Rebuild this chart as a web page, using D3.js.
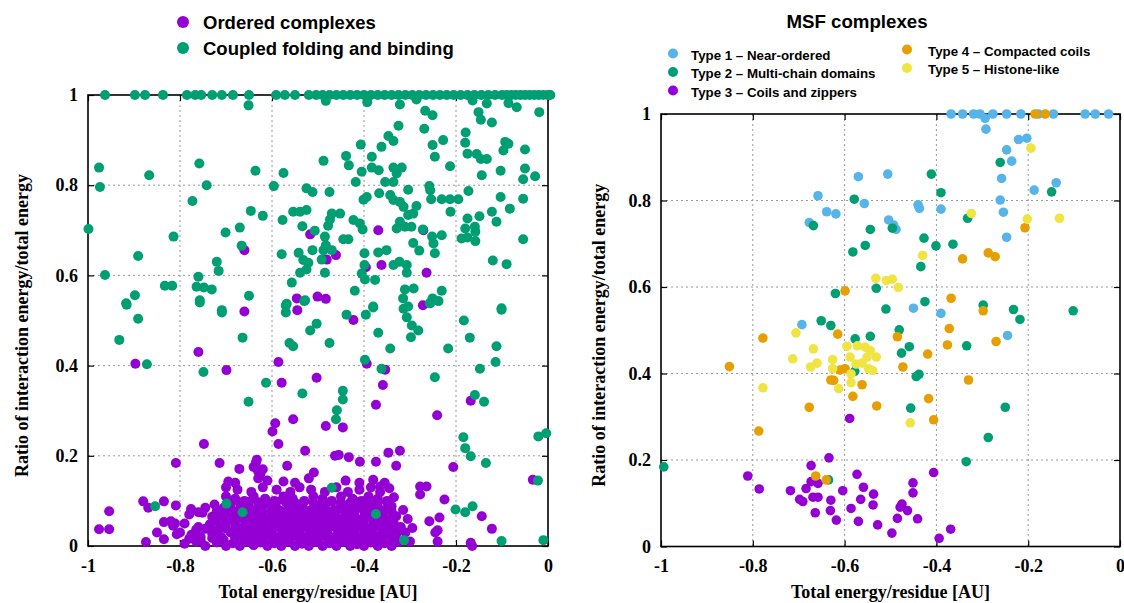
<!DOCTYPE html>
<html><head><meta charset="utf-8">
<script src="https://cdn.jsdelivr.net/npm/d3@7"></script>
<style>
body{margin:0;background:#fff}
.ax text{font-family:"Liberation Serif",serif;font-weight:bold;font-size:18px;fill:#000}
.lab{font-family:"Liberation Serif",serif;font-weight:bold;font-size:18px;fill:#000}
.leg{font-family:"Liberation Sans",Arial,sans-serif;font-weight:bold;fill:#000}
</style></head><body>
<svg id="c" width="1124" height="603"></svg>
<script>
// ---- shared axis data ----
const xTicks=[-1,-0.8,-0.6,-0.4,-0.2,0];
const xTickLabels=["-1","-0.8","-0.6","-0.4","-0.2","0"];
const yTicks=[0,0.2,0.4,0.6,0.8,1];
const yTickLabels=["0","0.2","0.4","0.6","0.8","1"];
const gridX=[-0.8,-0.6,-0.4,-0.2];
const gridY=[0.2,0.4,0.6,0.8];
const xLabel="Total energy/residue [AU]";
const yLabel="Ratio of interaction energy/total energy";

// ---- left panel: ordered complexes (purple) ----
const orderedScatter=[[-0.660,0.656],[-0.517,0.691],[-0.481,0.635],[-0.461,0.645],[-0.369,0.700],[-0.396,0.618],[-0.362,0.623],[-0.271,0.700],[-0.264,0.606],[-0.546,0.549],[-0.545,0.523],[-0.501,0.553],[-0.483,0.548],[-0.660,0.520],[-0.272,0.534],[-0.423,0.501],
[-0.760,0.430],[-0.897,0.404],[-0.699,0.390],[-0.586,0.408],[-0.579,0.362],[-0.503,0.373],[-0.394,0.404],[-0.354,0.391],[-0.359,0.357],[-0.374,0.313],[-0.554,0.281],[-0.599,0.254],[-0.593,0.272],[-0.483,0.266],[-0.446,0.263],[-0.586,0.226],[-0.748,0.226],[-0.528,0.211],[-0.463,0.200],[-0.455,0.202],[-0.433,0.197],[-0.409,0.187],[-0.374,0.187],[-0.347,0.207],[-0.322,0.211],[-0.330,0.178],[-0.241,0.290],[-0.168,0.322],[-0.206,0.175],[-0.033,0.147],[-0.809,0.184],[-0.714,0.184],[-0.671,0.171],[-0.633,0.191],[-0.567,0.178],[-0.509,0.163],[-0.225,0.103],[-0.236,0.063],[-0.240,0.035],[-0.144,0.066],[-0.122,0.038],[-0.168,0.007],[-0.278,0.132],[-0.264,0.132],[-0.278,0.114],[-0.258,0.055],[-0.976,0.037],[-0.954,0.037],[-0.954,0.077],[-0.880,0.099],[-0.869,0.085],[-0.835,0.099],[-0.874,0.009],[-0.835,0.053],[-0.811,0.050],[-0.807,0.026],[-0.809,0.090],[-0.776,0.082],[-0.751,0.074],[-0.725,0.092],[-0.165,0.0],[-0.24,0.01],[-0.245,0.03]];
const orderedCluster=[
[-0.79,0.005],[-0.765,0.01],[-0.745,0.0],[-0.72,0.008],[-0.70,0.0],[-0.685,0.006],[-0.67,0.0],[-0.655,0.01],[-0.64,0.002],[-0.625,0.008],[-0.61,0.0],[-0.595,0.006],[-0.58,0.0],[-0.565,0.01],[-0.55,0.0],[-0.535,0.005],[-0.52,0.0],[-0.505,0.009],[-0.49,0.0],[-0.475,0.006],[-0.46,0.0],[-0.445,0.01],[-0.43,0.0],[-0.415,0.004],[-0.40,0.0],[-0.385,0.008],[-0.37,0.0],[-0.355,0.006],[-0.34,0.0],[-0.325,0.01],
[-0.78,0.016],[-0.755,0.012],[-0.73,0.018],[-0.705,0.013],[-0.68,0.017],[-0.66,0.012],[-0.64,0.018],[-0.62,0.014],[-0.60,0.016],[-0.58,0.012],[-0.56,0.018],[-0.54,0.013],[-0.52,0.017],[-0.50,0.012],[-0.48,0.018],[-0.46,0.014],[-0.44,0.016],[-0.42,0.012],[-0.40,0.018],[-0.38,0.013],[-0.36,0.017],[-0.34,0.014],
[-0.80,0.03],[-0.775,0.025],[-0.755,0.02],[-0.73,0.028],[-0.71,0.02],[-0.69,0.03],[-0.675,0.022],[-0.66,0.03],[-0.645,0.02],[-0.63,0.028],[-0.615,0.022],[-0.60,0.03],[-0.585,0.02],[-0.57,0.028],[-0.555,0.024],[-0.54,0.03],[-0.525,0.02],[-0.51,0.028],[-0.495,0.022],[-0.48,0.03],[-0.465,0.02],[-0.45,0.026],[-0.435,0.022],[-0.42,0.03],[-0.405,0.02],[-0.39,0.028],[-0.375,0.022],[-0.36,0.03],[-0.345,0.02],[-0.33,0.026],
[-0.765,0.036],[-0.745,0.038],[-0.72,0.035],[-0.70,0.039],[-0.68,0.036],[-0.66,0.038],[-0.64,0.035],[-0.62,0.039],[-0.60,0.036],[-0.58,0.038],[-0.56,0.035],[-0.54,0.039],[-0.52,0.036],[-0.50,0.038],[-0.48,0.035],[-0.46,0.039],[-0.44,0.036],[-0.42,0.038],[-0.40,0.035],[-0.38,0.039],[-0.36,0.036],[-0.34,0.038],[-0.325,0.035],
[-0.815,0.045],[-0.79,0.05],[-0.76,0.042],[-0.735,0.048],[-0.715,0.04],[-0.70,0.05],[-0.68,0.045],[-0.665,0.04],[-0.65,0.05],[-0.635,0.044],[-0.62,0.048],[-0.605,0.04],[-0.59,0.05],[-0.575,0.045],[-0.56,0.04],[-0.545,0.05],[-0.53,0.044],[-0.515,0.048],[-0.50,0.04],[-0.485,0.05],[-0.47,0.045],[-0.455,0.04],[-0.44,0.05],[-0.425,0.044],[-0.41,0.048],[-0.395,0.04],[-0.38,0.05],[-0.365,0.045],[-0.35,0.04],[-0.335,0.05],[-0.32,0.042],
[-0.72,0.056],[-0.70,0.058],[-0.68,0.055],[-0.66,0.057],[-0.64,0.056],[-0.62,0.058],[-0.60,0.055],[-0.58,0.057],[-0.56,0.056],[-0.54,0.058],[-0.52,0.055],[-0.50,0.057],[-0.48,0.056],[-0.46,0.058],[-0.44,0.055],[-0.42,0.057],[-0.40,0.056],[-0.38,0.058],[-0.36,0.055],[-0.34,0.057],
[-0.73,0.065],[-0.71,0.07],[-0.69,0.062],[-0.675,0.068],[-0.66,0.06],[-0.645,0.07],[-0.63,0.065],[-0.615,0.06],[-0.60,0.07],[-0.585,0.064],[-0.57,0.068],[-0.555,0.06],[-0.54,0.07],[-0.525,0.065],[-0.51,0.06],[-0.495,0.07],[-0.48,0.064],[-0.465,0.068],[-0.45,0.06],[-0.435,0.07],[-0.42,0.065],[-0.405,0.06],[-0.39,0.07],[-0.375,0.064],[-0.36,0.068],[-0.345,0.06],[-0.33,0.066],
[-0.72,0.077],[-0.70,0.078],[-0.68,0.076],[-0.66,0.078],[-0.64,0.077],[-0.62,0.076],[-0.60,0.078],[-0.58,0.077],[-0.56,0.076],[-0.54,0.078],[-0.52,0.077],[-0.50,0.076],[-0.48,0.078],[-0.46,0.077],[-0.44,0.076],[-0.42,0.078],[-0.40,0.077],[-0.38,0.076],[-0.36,0.078],[-0.34,0.077],
[-0.705,0.085],[-0.69,0.09],[-0.67,0.082],[-0.65,0.088],[-0.635,0.08],[-0.62,0.09],[-0.60,0.085],[-0.585,0.08],[-0.565,0.09],[-0.55,0.084],[-0.535,0.088],[-0.515,0.08],[-0.50,0.09],[-0.485,0.085],[-0.465,0.08],[-0.45,0.09],[-0.43,0.084],[-0.415,0.088],[-0.40,0.08],[-0.385,0.09],[-0.37,0.085],[-0.355,0.08],[-0.34,0.088],
[-0.69,0.097],[-0.67,0.096],[-0.65,0.098],[-0.63,0.097],[-0.61,0.096],[-0.59,0.098],[-0.57,0.097],[-0.55,0.096],[-0.53,0.098],[-0.51,0.097],[-0.49,0.096],[-0.47,0.098],[-0.45,0.097],[-0.43,0.096],[-0.41,0.098],[-0.39,0.097],[-0.37,0.096],[-0.35,0.098],
[-0.70,0.11],[-0.68,0.105],[-0.66,0.1],[-0.64,0.11],[-0.615,0.105],[-0.595,0.1],[-0.575,0.11],[-0.555,0.105],[-0.53,0.1],[-0.51,0.11],[-0.49,0.105],[-0.47,0.1],[-0.45,0.11],[-0.425,0.105],[-0.405,0.1],[-0.39,0.11],[-0.37,0.105],[-0.35,0.1],[-0.335,0.108],
[-0.70,0.13],[-0.675,0.125],[-0.645,0.12],[-0.62,0.13],[-0.59,0.125],[-0.56,0.12],[-0.54,0.13],[-0.515,0.125],[-0.485,0.12],[-0.46,0.13],[-0.435,0.12],[-0.41,0.125],[-0.385,0.13],[-0.365,0.12],[-0.345,0.128],
[-0.695,0.143],[-0.68,0.14],[-0.63,0.15],[-0.61,0.145],[-0.575,0.143],[-0.55,0.14],[-0.52,0.15],[-0.44,0.145],[-0.41,0.14],[-0.38,0.147],[-0.355,0.14],[-0.365,0.132],
[-0.63,0.165],[-0.64,0.175],[-0.635,0.185],[-0.62,0.17],[-0.625,0.16],
[-0.85,0.03],[-0.835,0.015],[-0.82,0.055],[-0.78,0.07],[-0.76,0.075],[-0.745,0.085],[-0.31,0.03],[-0.305,0.06],[-0.30,0.01],[-0.315,0.08],[-0.295,0.04]];

// ---- left panel: coupled folding and binding (green) ----
const coupledTop=[[-0.963,1],[-0.898,1],[-0.876,1],[-0.837,1],[-0.785,1],[-0.767,1],[-0.754,1],[-0.730,1],[-0.709,1],[-0.685,1],[-0.650,1],[-0.591,1],[-0.572,1],[-0.55,1],[-0.52,1],[-0.504,1],[-0.49,1],[-0.475,1],[-0.46,1],[-0.445,1],[-0.43,1],[-0.415,1],[-0.40,1],[-0.385,1],[-0.37,1],[-0.355,1],[-0.34,1],[-0.325,1],[-0.31,1],[-0.295,1],[-0.28,1],[-0.265,1],[-0.25,1],[-0.235,1],[-0.22,1],[-0.205,1],[-0.19,1],[-0.175,1],[-0.16,1],[-0.145,1],[-0.13,1],[-0.115,1],[-0.1,1],[-0.09,1],[-0.08,1],[-0.07,1],[-0.06,1],[-0.05,1],[-0.04,1],[-0.03,1],[-0.02,1],[-0.01,1],[0,1],[0.005,1]];
const coupledScatter=[[-0.651,0.977],[-0.483,0.987],[-0.393,0.984],[-0.322,0.979],[-0.286,0.990],[-0.164,0.988],[-0.151,0.962],[-0.146,0.945],[-0.133,0.981],[-0.086,0.982],[-0.068,0.973],[-0.019,0.962],[-0.267,0.965],[-0.251,0.955],[-0.269,0.925],[-0.325,0.932],[-0.122,0.939],[-0.179,0.917],[-0.180,0.894],[-0.175,0.870],[-0.155,0.869],[-0.146,0.858],[-0.133,0.858],[-0.144,0.822],[-0.228,0.900],[-0.251,0.889],[-0.246,0.863],[-0.213,0.842],[-0.347,0.909],[-0.336,0.898],[-0.362,0.885],[-0.407,0.890],[-0.383,0.863],[-0.383,0.839],[-0.368,0.833],[-0.439,0.865],[-0.433,0.844],[-0.405,0.830],[-0.488,0.854],[-0.336,0.839],[-0.318,0.839],[-0.329,0.826],[-0.354,0.807],[-0.336,0.807],[-0.418,0.807],[-0.367,0.782],[-0.343,0.778],[-0.304,0.790],[-0.336,0.767],[-0.322,0.763],[-0.401,0.768],[-0.394,0.774],[-0.314,0.752],[-0.286,0.754],[-0.304,0.734],[-0.293,0.737],[-0.322,0.719],[-0.329,0.704],[-0.311,0.708],[-0.297,0.708],[-0.258,0.798],[-0.256,0.789],[-0.254,0.769],[-0.231,0.769],[-0.213,0.769],[-0.195,0.769],[-0.212,0.741],[-0.173,0.787],[-0.103,0.832],[-0.097,0.877],[-0.093,0.896],[-0.086,0.892],[-0.050,0.879],[-0.050,0.837],[-0.054,0.813],[-0.028,0.820],[-0.054,0.770],[-0.103,0.774],[-0.083,0.748],[-0.122,0.741],[-0.112,0.719],[-0.175,0.726],[-0.149,0.731],[-0.159,0.708],[-0.180,0.704],[-0.158,0.697],[-0.188,0.682],[-0.175,0.684],[-0.158,0.676],[-0.054,0.680],[-0.120,0.633],[-0.090,0.625],[-0.101,0.527],[-0.272,0.702],[-0.252,0.686],[-0.231,0.689],[-0.249,0.671],[-0.246,0.649],[-0.293,0.672],[-0.280,0.655],[-0.323,0.630],[-0.307,0.623],[-0.307,0.606],[-0.336,0.623],[-0.311,0.569],[-0.292,0.571],[-0.315,0.549],[-0.304,0.531],[-0.251,0.549],[-0.231,0.566],[-0.256,0.539],[-0.376,0.590],[-0.399,0.649],[-0.369,0.651],[-0.351,0.656],[-0.399,0.623],[-0.405,0.604],[-0.420,0.566],[-0.380,0.531],[-0.423,0.723],[-0.409,0.715],[-0.403,0.702],[-0.452,0.737],[-0.470,0.737],[-0.474,0.724],[-0.478,0.710],[-0.445,0.680],[-0.434,0.680],[-0.485,0.686],[-0.483,0.667],[-0.488,0.656],[-0.470,0.656],[-0.492,0.635],[-0.475,0.785],[-0.525,0.793],[-0.512,0.785],[-0.525,0.745],[-0.539,0.741],[-0.554,0.741],[-0.577,0.723],[-0.534,0.709],[-0.507,0.699],[-0.512,0.656],[-0.542,0.650],[-0.532,0.634],[-0.521,0.628],[-0.579,0.647],[-0.539,0.606],[-0.525,0.613],[-0.485,0.606],[-0.557,0.584],[-0.596,0.798],[-0.575,0.827],[-0.636,0.832],[-0.646,0.743],[-0.620,0.732],[-0.670,0.706],[-0.666,0.666],[-0.701,0.695],[-0.720,0.630],[-0.716,0.610],[-0.758,0.848],[-0.742,0.800],[-0.773,0.765],[-0.814,0.686],[-0.867,0.822],[-0.891,0.643],[-0.963,0.601],[-0.976,0.839],[-0.974,0.796],[-0.999,0.703],[-0.833,0.577],[-0.817,0.577],[-0.760,0.597],[-0.764,0.575],[-0.748,0.573],[-0.731,0.569],[-0.757,0.545],[-0.650,0.555],[-0.917,0.538],[-0.898,0.556],[-0.709,0.523],[-0.568,0.537],[-0.528,0.545],[-0.398,0.591],
[-0.916,0.535],[-0.891,0.504],[-0.932,0.457],[-0.872,0.403],[-0.757,0.540],[-0.749,0.386],[-0.709,0.518],[-0.664,0.462],[-0.651,0.320],[-0.613,0.362],[-0.570,0.533],[-0.570,0.518],[-0.562,0.450],[-0.554,0.443],[-0.530,0.543],[-0.517,0.478],[-0.503,0.493],[-0.475,0.450],[-0.534,0.338],[-0.438,0.513],[-0.396,0.513],[-0.380,0.529],[-0.369,0.473],[-0.343,0.438],[-0.398,0.413],[-0.362,0.393],[-0.446,0.344],[-0.446,0.325],[-0.459,0.301],[-0.461,0.281],[-0.314,0.526],[-0.307,0.507],[-0.296,0.489],[-0.282,0.478],[-0.298,0.463],[-0.257,0.538],[-0.238,0.543],[-0.217,0.438],[-0.246,0.374],[-0.183,0.500],[-0.170,0.462],[-0.148,0.393],[-0.159,0.335],[-0.139,0.320],[-0.112,0.443],[-0.114,0.408],[-0.101,0.524],[-0.184,0.241],[-0.180,0.217],[-0.168,0.199],[-0.135,0.184],[-0.021,0.243],[-0.004,0.250],[-0.022,0.145],[-0.470,0.129],[-0.699,0.094],[-0.664,0.075],[-0.854,0.088],[-0.374,0.071],[-0.201,0.081],[-0.180,0.075],[-0.164,0.088],[-0.101,0.011],[-0.010,0.013],[-0.313,0.013]];

// ---- right panel: MSF complexes ----
const type1Pts=[[-0.368,1],[-0.343,1],[-0.319,1],[-0.305,1],[-0.294,0.990],[-0.277,1],[-0.247,1],[-0.216,1],[-0.178,1],[-0.145,1],[-0.076,1],[-0.054,1],[-0.025,1],[-0.292,0.965],[-0.221,0.941],[-0.203,0.944],[-0.247,0.917],[-0.236,0.891],[-0.258,0.851],[-0.261,0.801],[-0.254,0.773],[-0.247,0.715],[-0.187,0.824],[-0.139,0.841],[-0.570,0.855],[-0.506,0.861],[-0.658,0.811],[-0.639,0.774],[-0.619,0.769],[-0.677,0.749],[-0.557,0.793],[-0.504,0.755],[-0.493,0.743],[-0.488,0.733],[-0.440,0.790],[-0.437,0.782],[-0.390,0.780],[-0.450,0.551],[-0.390,0.539],[-0.693,0.513],[-0.245,0.488]];
const type2Pts=[[-0.411,0.861],[-0.390,0.818],[-0.579,0.803],[-0.261,0.888],[-0.149,0.820],[-0.668,0.742],[-0.544,0.733],[-0.496,0.736],[-0.555,0.696],[-0.582,0.681],[-0.427,0.713],[-0.401,0.695],[-0.364,0.699],[-0.434,0.647],[-0.332,0.759],[-0.531,0.597],[-0.620,0.585],[-0.510,0.549],[-0.425,0.566],[-0.298,0.558],[-0.232,0.548],[-0.218,0.525],[-0.102,0.545],[-0.651,0.522],[-0.630,0.511],[-0.577,0.480],[-0.544,0.486],[-0.481,0.501],[-0.459,0.462],[-0.476,0.447],[-0.334,0.464],[-0.444,0.393],[-0.438,0.398],[-0.456,0.320],[-0.250,0.322],[-0.287,0.252],[-0.335,0.196],[-0.635,0.154],[-0.994,0.184],[-0.578,0.405]];
const type3Pts=[[-0.589,0.296],[-0.634,0.205],[-0.673,0.187],[-0.811,0.163],[-0.786,0.133],[-0.718,0.129],[-0.698,0.109],[-0.691,0.104],[-0.684,0.134],[-0.673,0.150],[-0.658,0.146],[-0.669,0.114],[-0.658,0.114],[-0.664,0.078],[-0.630,0.107],[-0.631,0.083],[-0.618,0.061],[-0.604,0.129],[-0.573,0.167],[-0.559,0.137],[-0.537,0.121],[-0.565,0.109],[-0.538,0.096],[-0.586,0.088],[-0.570,0.058],[-0.528,0.050],[-0.497,0.031],[-0.485,0.065],[-0.475,0.098],[-0.479,0.091],[-0.463,0.083],[-0.441,0.064],[-0.451,0.147],[-0.451,0.124],[-0.406,0.171],[-0.394,0.019],[-0.369,0.040]];
const type4Pts=[[-0.185,1],[-0.163,1],[-0.207,0.737],[-0.287,0.679],[-0.272,0.670],[-0.343,0.665],[-0.599,0.591],[-0.368,0.574],[-0.298,0.545],[-0.778,0.482],[-0.851,0.416],[-0.787,0.267],[-0.677,0.322],[-0.615,0.491],[-0.485,0.485],[-0.372,0.504],[-0.376,0.466],[-0.270,0.474],[-0.419,0.445],[-0.473,0.415],[-0.610,0.408],[-0.599,0.411],[-0.630,0.385],[-0.624,0.384],[-0.562,0.374],[-0.582,0.347],[-0.530,0.325],[-0.417,0.342],[-0.406,0.293],[-0.330,0.385],[-0.663,0.163],[-0.640,0.154]];
const type5Pts=[[-0.194,0.921],[-0.324,0.770],[-0.202,0.757],[-0.132,0.759],[-0.430,0.673],[-0.532,0.620],[-0.509,0.615],[-0.496,0.618],[-0.483,0.599],[-0.706,0.494],[-0.668,0.457],[-0.713,0.434],[-0.660,0.424],[-0.674,0.415],[-0.626,0.432],[-0.626,0.411],[-0.595,0.463],[-0.588,0.438],[-0.572,0.464],[-0.555,0.461],[-0.544,0.453],[-0.575,0.422],[-0.562,0.424],[-0.551,0.438],[-0.531,0.438],[-0.548,0.411],[-0.539,0.407],[-0.586,0.399],[-0.586,0.379],[-0.613,0.365],[-0.778,0.367],[-0.457,0.286]];

const leftLegend=["Ordered complexes","Coupled folding and binding"];
const rightTitle="MSF complexes";
const rightLegend=["Type 1 \u2013 Near-ordered","Type 2 \u2013 Multi-chain domains","Type 3 \u2013 Coils and zippers","Type 4 \u2013 Compacted coils","Type 5 \u2013 Histone-like"];
const C={purple:"#9400d3",green:"#009e73",blue:"#56b4e9",orange:"#e69f00",yellow:"#f0e442"};

const svg=d3.select("#c");

function panel(box, series, r){
  const g=svg.append("g");
  const x=d3.scaleLinear().domain([-1,0]).range([box.l,box.r]);
  const y=d3.scaleLinear().domain([0,1]).range([box.b,box.t]);
  g.selectAll(".gx").data(gridX).join("line").attr("x1",d=>x(d)).attr("x2",d=>x(d))
    .attr("y1",box.t).attr("y2",box.b).attr("stroke","#9a9a9a").attr("stroke-width",1).attr("stroke-dasharray","2,3");
  g.selectAll(".gy").data(gridY).join("line").attr("y1",d=>y(d)).attr("y2",d=>y(d))
    .attr("x1",box.l).attr("x2",box.r).attr("stroke","#9a9a9a").attr("stroke-width",1).attr("stroke-dasharray","2,3");
  const fx=d=>xTickLabels[xTicks.indexOf(d)], fy=d=>yTickLabels[yTicks.indexOf(d)];
  const ab=g.append("g").attr("class","ax").attr("transform",`translate(0,${box.b})`)
    .call(d3.axisBottom(x).tickValues(xTicks).tickFormat(fx).tickSizeInner(-6).tickSizeOuter(0).tickPadding(13));
  const al=g.append("g").attr("class","ax").attr("transform",`translate(${box.l},0)`)
    .call(d3.axisLeft(y).tickValues(yTicks).tickFormat(fy).tickSizeInner(-6).tickSizeOuter(0).tickPadding(10));
  const at=g.append("g").attr("class","ax").attr("transform",`translate(0,${box.t})`)
    .call(d3.axisTop(x).tickValues(xTicks).tickFormat("").tickSizeInner(-6).tickSizeOuter(0));
  const ar=g.append("g").attr("class","ax").attr("transform",`translate(${box.r},0)`)
    .call(d3.axisRight(y).tickValues(yTicks).tickFormat("").tickSizeInner(-6).tickSizeOuter(0));
  [ab,al,at,ar].forEach(a=>{a.select(".domain").remove();a.selectAll("line").attr("stroke","#000").attr("stroke-width",1.2);});
  g.append("rect").attr("x",box.l).attr("y",box.t).attr("width",box.r-box.l).attr("height",box.b-box.t)
    .attr("fill","none").attr("stroke","#000").attr("stroke-width",1.6);
  series.forEach(s=>{
    g.append("g").selectAll("circle").data(s.pts).join("circle")
      .attr("cx",d=>x(d[0])).attr("cy",d=>y(d[1])).attr("r",r).attr("fill",s.color);
  });
  g.append("text").attr("class","lab").attr("x",(box.l+box.r)/2).attr("y",598).attr("text-anchor","middle").text(xLabel);
  g.append("text").attr("class","lab").attr("transform",`translate(${box.yl},${(box.t+box.b)/2+5}) rotate(-90)`)
    .attr("text-anchor","middle").attr("dy","0.35em").text(yLabel);
}

panel({l:88,r:548,t:95,b:546,yl:22},[
  {pts:orderedScatter.concat(orderedCluster),color:C.purple},
  {pts:coupledTop.concat(coupledScatter),color:C.green}],5);

panel({l:661,r:1120,t:114,b:546.5,yl:599},[
  {pts:type1Pts,color:C.blue},{pts:type2Pts,color:C.green},{pts:type3Pts,color:C.purple},
  {pts:type4Pts,color:C.orange},{pts:type5Pts,color:C.yellow}],4.8);

const ll=svg.append("g");
ll.selectAll("circle").data(leftLegend).join("circle").attr("cx",183).attr("cy",(d,i)=>22+i*26).attr("r",6)
  .attr("fill",(d,i)=>i?C.green:C.purple);
ll.selectAll("text").data(leftLegend).join("text").attr("class","leg").attr("font-size","18.5px")
  .attr("x",203).attr("y",(d,i)=>22+i*26).attr("dy","0.36em").text(d=>d);

svg.append("text").attr("class","leg").attr("font-size","18.7px").attr("x",857).attr("y",21).attr("dy","0.36em")
  .attr("text-anchor","middle").text(rightTitle);
const rcol=[C.blue,C.green,C.purple,C.orange,C.yellow];
const rl=svg.append("g");
const rpos=(i)=> i<3 ? {dx:673,tx:691,y:55+i*18.5} : {dx:907,tx:928,y:51+(i-3)*18.5};
rl.selectAll("circle").data(rightLegend).join("circle").attr("cx",(d,i)=>rpos(i).dx).attr("cy",(d,i)=>rpos(i).y-1.5)
  .attr("r",5).attr("fill",(d,i)=>rcol[i]);
rl.selectAll("text").data(rightLegend).join("text").attr("class","leg").attr("font-size","13.3px")
  .attr("x",(d,i)=>rpos(i).tx).attr("y",(d,i)=>rpos(i).y).attr("dy","0.36em").text(d=>d);
</script></body></html>
